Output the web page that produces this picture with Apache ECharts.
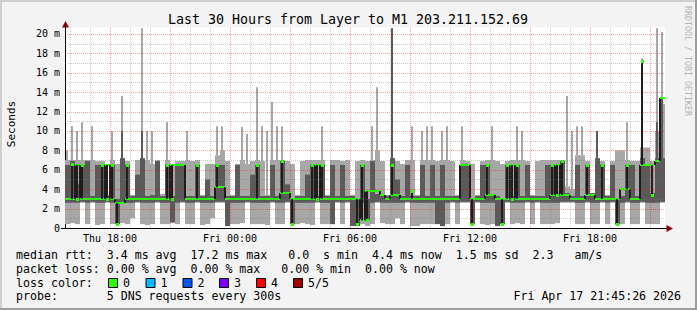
<!DOCTYPE html>
<html><head><meta charset="utf-8">
<script src="https://cdn.jsdelivr.net/npm/echarts@6/dist/echarts.min.js"></script>
<style>html,body{margin:0;padding:0;background:#f3f3f3}#c{width:697px;height:310px}</style>
</head><body><div id="c"></div>
<script>
// ---- time axis (hours since Thu 00:00) ----
const startHour = 15.75, endHour = 45.75, stepHours = 0.25;
const yMax = 20.72;
const xTickHours = [18, 24, 30, 36, 42];
const xTickLabels = ['Thu 18:00', 'Fri 00:00', 'Fri 06:00', 'Fri 12:00', 'Fri 18:00'];
const yTickValues = [0, 2, 4, 6, 8, 10, 12, 14, 16, 18, 20];

// ---- smoke data (ms), one column per 15 minutes ----
const minV = [
 0.4,0.5,0.4,2.6,0.4,2.6,0.3,0.4,2.6,0.4,0.4,0.5,0.4,1.0,2.6,0.4,0.3,0.4,2.6,0.4,0.4,0.5,0.4,2.6,
 0.4,0.4,2.6,0.3,0.4,1.0,2.6,2.6,0.2,0.4,0.4,0.5,2.6,0.4,0.4,0.4,0.3,2.6,0.4,0.4,2.6,0.4,0.4,0.5,
 0.4,0.3,2.6,0.4,0.4,0.4,2.6,0.4,2.6,0.4,0.2,0.4,0.2,0.4,2.6,0.5,0.4,0.4,1.0,0.4,2.6,0.2,0.2,0.4,
 0.4,0.4,0.5,0.2,0.4,2.6,0.4,2.6,2.6,0.4,2.6,0.4,0.3,0.4,0.2,0.4,2.6,0.4,0.5,0.4,2.6,0.4,2.6,0.4,
 0.4,0.4,0.5,2.6,2.6,2.6,0.4,0.4,2.6,0.4,0.4,2.6,0.4,2.6,0.3,0.4,2.6,0.4,0.4,2.6,0.4,0.4,0.4,2.6
];
const darkLoV = [
 2.6,2.6,2.6,2.7,2.6,2.7,2.6,2.6,2.7,2.6,0.4,2.6,2.6,2.6,2.7,2.6,2.6,2.6,2.7,2.6,2.6,0.6,2.6,2.7,
 2.6,2.6,2.7,2.6,2.6,2.6,2.7,2.7,0.2,2.6,2.6,2.6,2.7,2.6,2.6,2.6,2.6,2.7,2.6,2.6,2.7,0.4,2.6,2.6,
 2.6,2.6,2.7,2.6,2.6,0.4,2.7,2.6,2.7,0.2,0.2,2.6,0.8,2.6,2.7,2.6,2.6,2.6,2.6,2.6,2.7,2.6,2.6,2.6,
 2.6,2.6,0.4,0.2,2.6,2.7,2.6,2.7,2.7,0.4,2.7,2.6,2.6,2.6,0.2,0.4,2.7,2.6,2.6,2.6,2.7,2.6,2.7,2.6,
 2.6,2.6,2.6,2.7,2.7,2.7,2.6,2.6,2.7,2.6,2.6,2.7,2.6,2.7,0.4,2.6,2.7,2.6,2.6,2.7,2.6,2.6,2.6,2.7
];
const medianV = [
 3.0,6.6,3.0,6.5,3.0,3.0,3.0,6.5,3.0,6.5,0.4,2.6,6.5,3.0,3.0,3.0,3.0,3.0,3.0,3.0,6.5,3.0,6.5,6.5,
 3.0,3.0,6.5,3.0,3.0,3.0,6.5,4.2,3.0,3.0,3.0,3.0,3.0,3.0,6.5,3.0,3.0,3.0,3.0,6.9,3.6,0.4,3.0,3.0,
 3.0,6.5,3.0,6.5,3.0,3.0,3.0,3.0,3.0,3.0,0.4,6.5,0.8,3.8,3.8,3.4,3.0,6.5,3.4,3.0,3.0,3.8,3.0,3.0,
 3.0,3.0,3.0,3.0,3.0,3.0,3.0,6.5,6.5,0.4,3.0,3.0,6.5,3.4,3.0,0.4,6.5,3.0,6.5,3.0,3.0,3.0,3.0,3.0,
 3.0,6.5,3.4,6.9,3.4,3.0,3.0,3.0,6.5,3.4,3.0,6.5,3.0,3.0,0.4,4.0,6.5,3.0,3.0,17.2,6.5,3.4,6.9,13.4
];
const darkHiV = [
 6.5,6.9,4.5,6.5,6.9,3.3,6.5,6.5,3.3,6.5,3.0,10.0,6.5,3.3,5.5,10.0,3.3,3.4,6.9,3.3,6.5,3.3,6.5,6.5,
 3.3,3.3,6.5,3.3,5.0,3.3,6.5,6.5,3.3,3.3,6.5,3.3,3.3,5.5,6.5,3.3,3.3,6.5,3.3,6.9,4.5,3.0,3.3,3.3,
 5.5,6.5,3.3,6.5,3.3,6.5,3.3,6.5,3.3,3.3,3.0,6.5,3.0,6.9,3.5,3.3,3.3,20.6,5.0,3.3,6.5,3.3,3.3,6.5,
 3.3,6.5,3.3,6.5,3.3,3.3,3.3,6.5,6.5,3.0,3.3,6.5,6.5,3.3,3.3,3.0,6.5,3.3,6.5,3.3,6.5,3.3,3.3,3.3,
 6.5,6.5,3.6,6.9,3.6,3.3,6.5,3.3,6.5,3.6,10.0,6.5,3.3,6.5,3.0,3.3,6.5,6.5,3.3,17.2,6.5,3.6,10.9,13.4
];
const maxV = [
 7.0,7.0,7.0,7.0,7.0,7.0,6.9,6.9,3.4,7.0,6.6,7.0,6.9,3.4,7.0,7.0,7.0,6.6,7.0,3.5,7.0,6.6,6.9,6.9,
 7.0,6.9,7.0,3.4,6.6,6.6,7.5,8.0,6.9,3.4,6.6,7.0,6.6,6.9,7.0,6.9,3.4,7.0,7.0,7.0,6.9,6.6,3.4,6.9,
 7.0,7.0,7.0,7.0,3.4,7.0,7.0,6.9,7.0,3.4,6.9,7.0,6.9,7.0,8.0,6.9,3.4,7.0,6.9,6.6,7.0,7.0,3.4,7.0,
 7.0,7.0,6.9,7.0,7.0,6.9,3.4,7.0,6.9,6.6,3.4,6.9,7.0,7.0,6.9,6.6,6.9,7.0,7.0,7.0,6.9,3.4,6.9,7.0,
 7.0,7.0,7.0,7.0,4.3,4.0,7.5,7.5,6.9,3.4,6.9,6.9,3.4,6.9,8.0,8.0,7.0,6.9,6.9,8.3,8.3,6.9,10.0,12.8
];
const peakV = [
 8.0,10.5,10.0,10.9,0,10.5,0,0,0,10.0,0,13.6,0,0,0,20.6,10.0,10.0,0,0,10.9,0,0,0,
 10.0,0,0,0,0,0,10.5,10.5,0,0,0,10.4,9.7,0,14.5,10.5,10.0,13.0,10.5,10.5,0,0,0,0,
 0,0,0,10.5,0,0,0,0,0,0,0,0,0,10.5,14.5,0,0,16.0,0,0,0,10.5,0,10.0,
 10.5,10.5,0,10.0,10.5,0,0,10.5,0,0,0,0,0,10.5,0,0,0,0,10.5,10.0,0,0,0,0,
 0,0,0,0,13.6,10.0,10.5,10.5,0,0,0,0,0,0,0,0,10.9,0,0,17.5,0,0,20.6,20.2
];

// ---- legend texts ----
const titleText = 'Last 30 Hours from Layer to M1 203.211.152.69';
const statLine1 = 'median rtt:  3.4 ms avg  17.2 ms max   0.0  s min  4.4 ms now  1.5 ms sd  2.3   am/s';
const statLine2 = 'packet loss: 0.00 % avg  0.00 % max   0.00 % min  0.00 % now';
const lossLabel = 'loss color:';
const lossNames = ['0', '1', '2', '3', '4', '5/5'];
const lossColors = ['#26ff00', '#00b8ff', '#0059ff', '#7e00ff', '#ff0000', '#a00000'];
const probeLine = 'probe:       5 DNS requests every 300s';
const dateText = 'Fri Apr 17 21:45:26 2026';

const LIGHT = '#a7a7a7', DARK = '#5a5a5a', BLACK = '#1c1c1c', GREEN = lossColors[0];
const MONO = '"DejaVu Sans Mono", "Liberation Mono", monospace';
const N = medianV.length;

function spikeBase(i) {
  const m = medianV[i], p = i > 0 ? medianV[i - 1] : m, n = i < N - 1 ? medianV[i + 1] : m;
  if (m > p + 0.5 && m > n + 0.5) return Math.max(p, n);
  if (m < p - 0.5 && m < n - 0.5) return Math.min(p, n);
  return null;
}
function effLevel(i) { const b = spikeBase(i); return b === null ? medianV[i] : b; }

const smokeData = medianV.map((m, i) => [startHour + i * stepHours, m]);

function renderSmoke(params, api) {
  const i = params.dataIndex;
  const xs = api.value(0);
  const x0 = Math.round(api.coord([xs, 0])[0]);
  const x1 = Math.round(api.coord([xs + stepHours, 0])[0]);
  const w = x1 - x0, xc = x0 + Math.floor(w / 2);
  const yv = v => api.coord([xs, v])[1];
  const kids = [];
  const rect = (x, y, ww, hh, fill) => ({ type: 'rect', shape: { x: x, y: Math.min(y, y + hh), width: ww, height: Math.abs(hh) }, style: { fill: fill } });
  const lt = yv(maxV[i]), lb = yv(minV[i]);
  kids.push(rect(x0, lt, w, lb - lt, LIGHT));
  if (peakV[i] > maxV[i]) { const pt = yv(peakV[i]); kids.push(rect(xc - 1, pt, 2, lt - pt, LIGHT)); }
  const dTop = Math.min(darkHiV[i], 7.2);
  const dt = yv(dTop), db = yv(darkLoV[i]);
  kids.push(rect(x0, dt, w, db - dt, DARK));
  if (darkHiV[i] > 7.2) { const st = yv(darkHiV[i]); kids.push(rect(xc - 1, st, 2, dt - st, DARK)); }
  const m = medianV[i];
  const base = spikeBase(i);
  const lvl = effLevel(i);
  if (i > 0) {
    const pl = effLevel(i - 1);
    if (Math.abs(pl - lvl) > 0.05) kids.push(rect(x0 - 1, yv(pl), 2, yv(lvl) - yv(pl), BLACK));
  }
  kids.push(rect(x0, Math.round(yv(lvl)) - 1, w, 2, GREEN));
  if (base !== null) {
    kids.push(rect(xc - 1, yv(m), 2, yv(base) - yv(m), BLACK));
    kids.push(rect(xc - 1, Math.round(yv(m)) - 1, 3, 3, GREEN));
  }
  return { type: 'group', children: kids };
}

// grid lines
const vGrid = [], hGrid = [];
for (let h = Math.ceil(startHour); h <= endHour; h++) vGrid.push([h, 0, h % 3 === 0 ? 1 : 0]);
for (let v = 1; v <= 20; v++) hGrid.push([startHour, v, v % 2 === 0 ? 1 : 0]);
const MAJ = 'rgba(255,0,0,0.38)', MIN = 'rgba(120,120,120,0.38)';
function renderV(params, api) {
  const h = api.value(0);
  const x = Math.round(api.coord([h, 0])[0]) + 0.5;
  const yb = api.coord([h, 0])[1], yt = api.coord([h, yMax])[1];
  return { type: 'line', shape: { x1: x, y1: yt, x2: x, y2: yb }, style: { stroke: api.value(2) ? MAJ : MIN, lineWidth: 1, lineDash: [1, 1] } };
}
function renderH(params, api) {
  const v = api.value(1);
  const y = Math.round(api.coord([startHour, v])[1]) + 0.5;
  const xl = api.coord([startHour, v])[0], xr = api.coord([endHour, v])[0];
  return { type: 'line', shape: { x1: xl, y1: y, x2: xr, y2: y }, style: { stroke: api.value(2) ? MAJ : MIN, lineWidth: 1, lineDash: [1, 1] } };
}

const txt = (text, x, y, size, extra) => Object.assign({ type: 'text', x: x, y: y, silent: true,
  style: Object.assign({ text: text, font: size + 'px ' + MONO, fill: '#000', align: 'left', verticalAlign: 'middle' }, extra || {}) });

const graphics = [
  { type: 'rect', shape: { x: 0, y: 0, width: 697, height: 2 }, style: { fill: '#cfcfcf' }, silent: true },
  { type: 'rect', shape: { x: 0, y: 0, width: 2, height: 310 }, style: { fill: '#cfcfcf' }, silent: true },
  { type: 'rect', shape: { x: 0, y: 308, width: 697, height: 2 }, style: { fill: '#9e9e9e' }, silent: true },
  { type: 'rect', shape: { x: 695, y: 0, width: 2, height: 310 }, style: { fill: '#9e9e9e' }, silent: true },
  txt(titleText, 348, 19, 13.3, { align: 'center' }),
  Object.assign(txt('Seconds', 11, 124, 11, { align: 'center' }), { rotation: Math.PI / 2 }),
  Object.assign(txt('RRDTOOL / TOBI OETIKER', 688, 6, 8.3, { align: 'left', fill: '#b4b4b4' }), { rotation: -Math.PI / 2 }),
  txt(statLine1, 16, 255, 11.6),
  txt(statLine2, 16, 268.5, 11.6),
  txt(lossLabel, 16, 282.5, 11.6),
  txt(probeLine, 16, 296, 11.6),
  txt(dateText, 681, 296, 11.6, { align: 'right' }),
  { type: 'polygon', shape: { points: [[65.5, 21], [62, 27.5], [69, 27.5]] }, style: { fill: '#8b0000' }, silent: true },
  { type: 'polygon', shape: { points: [[673, 228.5], [666.5, 225], [666.5, 232]] }, style: { fill: '#8b0000' }, silent: true },
  { type: 'line', shape: { x1: 61, y1: 228.5, x2: 667, y2: 228.5 }, style: { stroke: '#000', lineWidth: 1 }, silent: true }
];
const boxX = [108, 145.5, 182.5, 219, 256, 293];
lossNames.forEach((n, k) => {
  graphics.push({ type: 'rect', shape: { x: boxX[k] + 0.5, y: 278.5, width: 9, height: 9 }, style: { fill: lossColors[k], stroke: '#000', lineWidth: 1 }, silent: true });
  graphics.push(txt(n, boxX[k] + 15, 282.5, 11.6));
});

const chart = echarts.init(document.getElementById('c'), null, { renderer: 'svg', width: 697, height: 310 });
chart.setOption({
  animation: false,
  backgroundColor: '#f3f3f3',
  grid: { left: 65, top: 27, width: 600, height: 201, show: true, backgroundColor: '#ffffff', borderWidth: 0 },
  xAxis: {
    type: 'value', min: startHour, max: endHour, interval: stepHours,
    axisLine: { show: true, lineStyle: { color: '#000', width: 1 } },
    axisTick: { show: false }, splitLine: { show: false },
    axisLabel: {
      margin: 5, color: '#000', fontFamily: MONO, fontSize: 10, showMinLabel: true, showMaxLabel: true,
      formatter: v => { const k = xTickHours.findIndex(h => Math.abs(h - v) < 1e-6); return k < 0 ? '' : xTickLabels[k]; }
    }
  },
  yAxis: {
    type: 'value', min: 0, max: yMax, interval: 1,
    axisLine: { show: true, lineStyle: { color: '#000', width: 1 } },
    axisTick: { show: false }, splitLine: { show: false },
    axisLabel: {
      margin: 5, color: '#000', fontFamily: MONO, fontSize: 10,
      formatter: v => { const k = yTickValues.findIndex(t => Math.abs(t - v) < 1e-6); if (k < 0) return ''; return v === 0 ? '0' : v + ' m'; }
    }
  },
  series: [
    { type: 'custom', z: 2, silent: true, data: smokeData, encode: { x: 0, y: 1 }, renderItem: renderSmoke, clip: false },
    { type: 'custom', z: 5, silent: true, data: vGrid, encode: { x: 0, y: 1 }, renderItem: renderV },
    { type: 'custom', z: 5, silent: true, data: hGrid, encode: { x: 0, y: 1 }, renderItem: renderH }
  ],
  graphic: graphics
});
</script></body></html>
